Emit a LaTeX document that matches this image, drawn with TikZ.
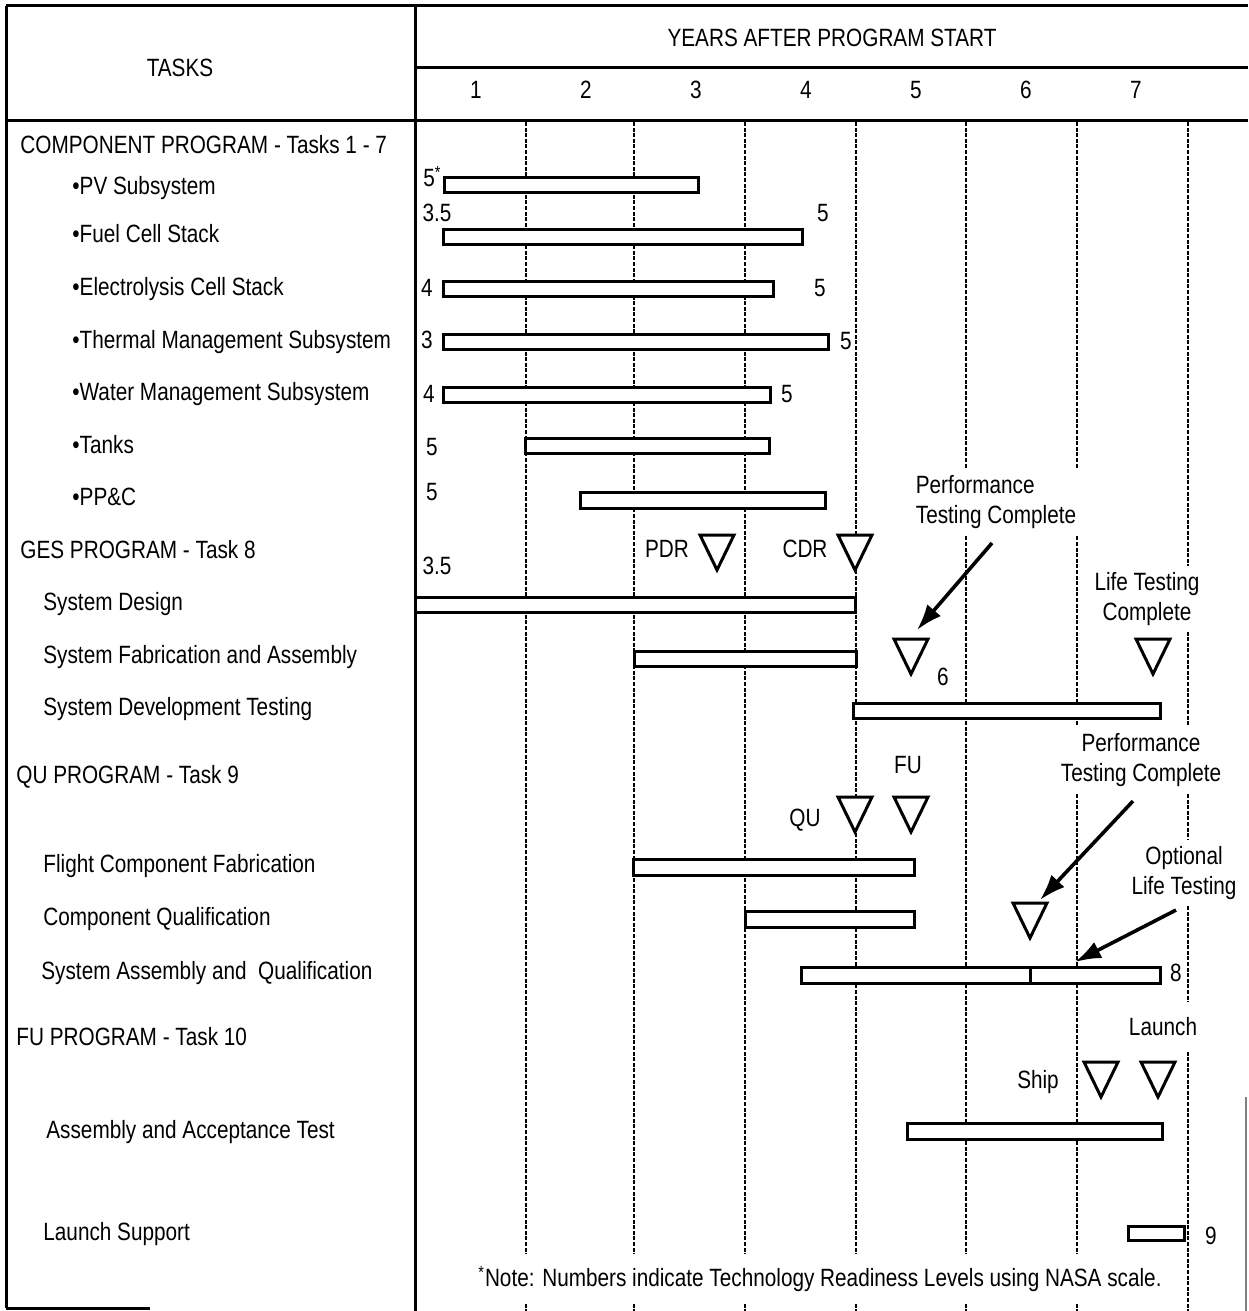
\documentclass[tikz,border=0pt]{standalone}
\usepackage{fontspec}
\setmainfont[FakeStretch=0.83]{Liberation Sans}
\usepackage{tikz}
\usetikzlibrary{arrows.meta, calc}

\newcommand{\chartfont}{\fontsize{12.5pt}{15pt}\selectfont}
% milestone: name, apex x, top y
\newcommand{\milestone}[3]{%
  \coordinate (#1) at (#2,#3);
  \draw[mstri] ({#2-17},#3) -- ({#2+17},#3) -- (#2,{#3+35}) -- cycle;}

\begin{document}
\begin{tikzpicture}[x=0.5pt, y=-0.5pt,
  every node/.style={font=\chartfont, inner sep=0pt},
  task/.style={anchor=west, text height=8.8pt, text depth=0pt},
  trl/.style={text height=8.8pt, text depth=0pt},
  tag/.style={text height=8.8pt, text depth=0pt, fill=white, inner sep=3pt},
  callout/.style={align=center, fill=white, inner sep=3pt},
  frame/.style={line width=1.5pt},
  gridline/.style={line width=0.8pt, dash pattern=on 2pt off 0.8pt},
  bar/.style={draw, fill=white, line width=1.5pt},
  mstri/.style={draw, fill=white, line width=1.5pt, line join=miter},
  pointer/.style={line width=1.8pt, -{Latex[length=13pt,width=9pt]}}]

  \useasboundingbox (0,0) rectangle (1248,1311);

  % year grid
  \foreach \gx in {526,634,745,856,966,1077,1188}
    \draw[gridline] (\gx,122) -- (\gx,1311);

  % table frame
  \draw[frame] (6,6) -- (1248,6);
  \draw[frame] (415,68) -- (1248,68);
  \draw[frame] (6,121) -- (1248,121);
  \draw[frame] (6,6) -- (6,1308);
  \draw[frame] (415,6) -- (415,1311);
  \draw[frame] (6,1308) -- (150,1308);
  \draw[line width=0.6pt, gray] (1246,1097) -- (1246,1311);

  % header
  \node (tasks) at (180,68) {TASKS};
  \node (years) at (832,38) {YEARS AFTER PROGRAM START};
  \foreach \n in {1,...,7}
    \node (yr\n) at ({366+110*\n},90) {\n};

  % task list
  \node[task] (comp) at (20,145) {COMPONENT PROGRAM - Tasks 1 - 7};
  \node[task] (pv) at (72,186) {•PV Subsystem};
  \node[task] (fuel) at (72,234) {•Fuel Cell Stack};
  \node[task] (elec) at (72,287) {•Electrolysis Cell Stack};
  \node[task] (therm) at (72,340) {•Thermal Management Subsystem};
  \node[task] (water) at (72,392) {•Water Management Subsystem};
  \node[task] (tanks) at (72,445) {•Tanks};
  \node[task] (ppc) at (72,497) {•PP\&C};
  \node[task] (ges) at (20,550) {GES PROGRAM - Task 8};
  \node[task] (sdes) at (43,602) {System Design};
  \node[task] (sfab) at (43,655) {System Fabrication and Assembly};
  \node[task] (sdev) at (43,707) {System Development Testing};
  \node[task] (qu) at (16,775) {QU PROGRAM - Task 9};
  \node[task] (ffab) at (43,864) {Flight Component Fabrication};
  \node[task] (cqual) at (43,917) {Component Qualification};
  \node[task] (squal) at (41,971) {System Assembly and\ \ Qualification};
  \node[task] (fu) at (16,1037) {FU PROGRAM - Task 10};
  \node[task] (accept) at (46,1130) {Assembly and Acceptance Test};
  \node[task] (lsup) at (43,1232) {Launch Support};

  % schedule bars
  \draw[bar] (444,177) rectangle (698,192);
  \draw[bar] (443,229) rectangle (802,244);
  \draw[bar] (443,281) rectangle (773,296);
  \draw[bar] (443,334) rectangle (828,349);
  \draw[bar] (443,387) rectangle (770,402);
  \draw[bar] (525,438) rectangle (769,453);
  \draw[bar] (580,492) rectangle (825,508);
  \draw[bar] (415,597) rectangle (855,612);
  \draw[bar] (634,651) rectangle (856,666);
  \draw[bar] (853,703) rectangle (1160,718);
  \draw[bar] (633,859) rectangle (914,875);
  \draw[bar] (745,911) rectangle (914,927);
  \draw[bar] (801,967) rectangle (1160,983);
  \draw[line width=1.5pt] (1030,967) -- (1030,983);
  \draw[bar] (907,1123) rectangle (1162,1139);
  \draw[bar] (1128,1226) rectangle (1184,1240);

  % readiness levels
  \node[trl, anchor=west] (pvA) at (423,178) {5\textsuperscript{*}};
  \node[trl] (fuelA) at (437,213) {3.5};
  \node[trl] (fuelB) at (823,213) {5};
  \node[trl] (elecA) at (427,288) {4};
  \node[trl] (elecB) at (820,288) {5};
  \node[trl] (thermA) at (427,340) {3};
  \node[trl] (thermB) at (846,341) {5};
  \node[trl] (waterA) at (429,394) {4};
  \node[trl] (waterB) at (787,394) {5};
  \node[trl] (tanksA) at (432,447) {5};
  \node[trl] (ppcA) at (432,492) {5};
  \node[trl] (gesA) at (437,566) {3.5};
  \node[trl] (sfabB) at (943,677) {6};
  \node[trl] (squalB) at (1176,973) {8};
  \node[trl] (lsupB) at (1211,1236) {9};

  % milestones
  \milestone{pdrmark}{717}{535}
  \milestone{cdrmark}{855}{535}
  \milestone{perfmark}{911}{639}
  \milestone{lifemark}{1153}{639}
  \milestone{qumark}{855}{797}
  \milestone{fumark}{911}{797}
  \milestone{perfmarkb}{1030}{903}
  \milestone{shipmark}{1101}{1062}
  \milestone{launchmark}{1158}{1062}
  \node[tag] (pdr) at (667,549) {PDR};
  \node[tag] (cdr) at (805,549) {CDR};
  \node[tag] (qulbl) at (805,818) {QU};
  \node[tag] (fulbl) at (908,765) {FU};
  \node[tag] (ship) at (1038,1080) {Ship};
  \node[tag, inner ysep=8pt] (launch) at (1163,1027) {Launch};

  % callouts
  \node[callout, align=left] (perfA) at (996,502) {Performance\\Testing Complete};
  \node[callout] (lifeA) at (1147,599) {Life Testing\\Complete};
  \node[callout] (perfB) at (1141,760) {Performance\\Testing Complete};
  \node[callout] (optlife) at (1184,873) {Optional\\Life Testing};
  \coordinate (assysplit) at (1075,962);
  \draw[pointer] ($(perfA.south)+(-4,8)$) -- ($(perfmark)+(6,-9)$);
  \draw[pointer] ($(perfB.south)+(-8,8)$) -- ($(perfmarkb)+(10,-3)$);
  \draw[pointer] ($(optlife.south)+(-8,4)$) -- (assysplit);

  % footnote
  \node[fill=white, inner xsep=2pt, inner ysep=6pt] (note) at (820,1279)
    {\textsuperscript{*}Note: Numbers indicate Technology Readiness Levels using NASA scale.};
\end{tikzpicture}
\end{document}
